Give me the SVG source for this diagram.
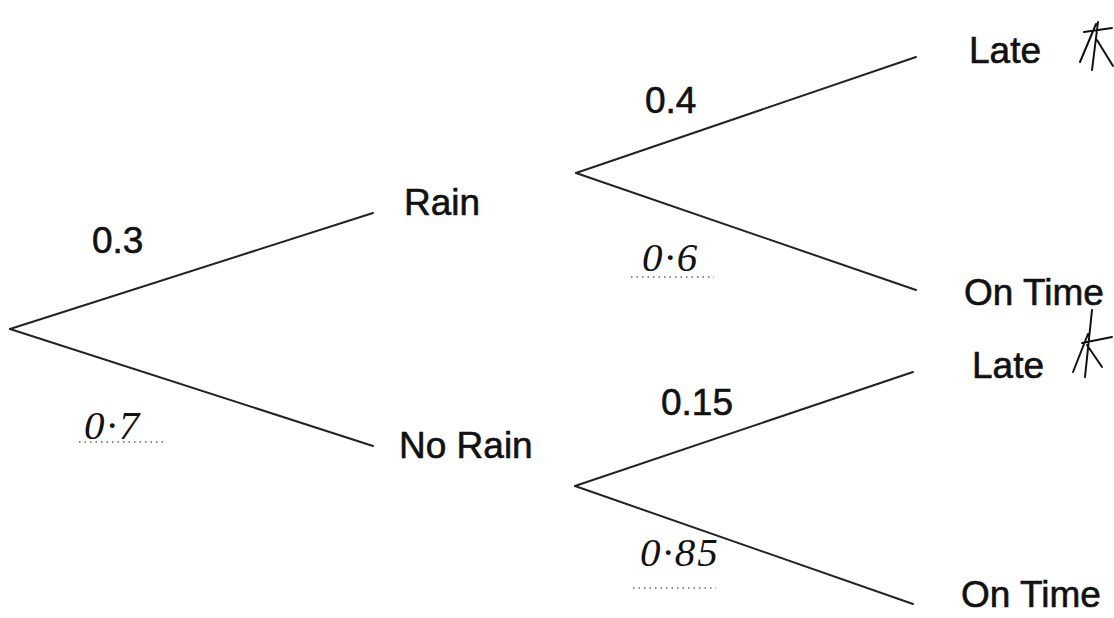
<svg xmlns="http://www.w3.org/2000/svg" width="1114" height="618" viewBox="0 0 1114 618">
<style>
.br{stroke:#222;stroke-width:2;fill:none;stroke-linecap:round}
.lbl{font-family:"Liberation Sans",Arial,sans-serif;font-size:37px;fill:#111;stroke:#111;stroke-width:0.6}
.hw{font-family:"Liberation Serif","DejaVu Serif",serif;font-style:italic;font-size:41px;fill:#111;letter-spacing:2px}
.dot{stroke:#666;stroke-width:1.5;stroke-dasharray:1.5 4;fill:none}
.mk{stroke:#111;stroke-width:2;fill:none;stroke-linecap:round}
</style>
<rect width="1114" height="618" fill="#fff"/>
<g id="connectors">
<line class="br" x1="10" y1="329" x2="373" y2="213"/>
<line class="br" x1="10" y1="329" x2="373" y2="446"/>
<line class="br" x1="576" y1="173" x2="916" y2="57"/>
<line class="br" x1="576" y1="173" x2="916" y2="290"/>
<line class="br" x1="575" y1="486" x2="913" y2="372"/>
<line class="br" x1="575" y1="486" x2="913" y2="604"/>
</g>
<g id="branch-labels">
<text class="lbl" x="92" y="253">0.3</text>
<text class="lbl" x="645" y="113">0.4</text>
<text class="lbl" x="661" y="415">0.15</text>
<text class="hw" x="84" y="439">0·7</text>
<path class="dot" d="M79 442H164"/>
<text class="hw" x="642" y="271">0·6</text>
<path class="dot" d="M631 277H714"/>
<text class="hw" x="640" y="566">0·85</text>
<path class="dot" d="M633 588H716"/>
</g>
<g id="node-rain"><text class="lbl" x="404" y="215">Rain</text></g>
<g id="node-norain"><text class="lbl" x="399" y="458">No Rain</text></g>
<g id="node-late1"><text class="lbl" x="969" y="63">Late</text>
<path class="mk" d="M1098 22L1092 70M1096 24L1080 62M1084 32L1112 28M1097 40L1113 66"/></g>
<g id="node-ontime1"><text class="lbl" x="964" y="305">On Time</text></g>
<g id="node-late2"><text class="lbl" x="972" y="378">Late</text>
<path class="mk" d="M1092 310L1085 377M1088 334L1073 372M1082 343L1112 337M1087 345L1102 367"/></g>
<g id="node-ontime2"><text class="lbl" x="961" y="607">On Time</text></g>
</svg>
